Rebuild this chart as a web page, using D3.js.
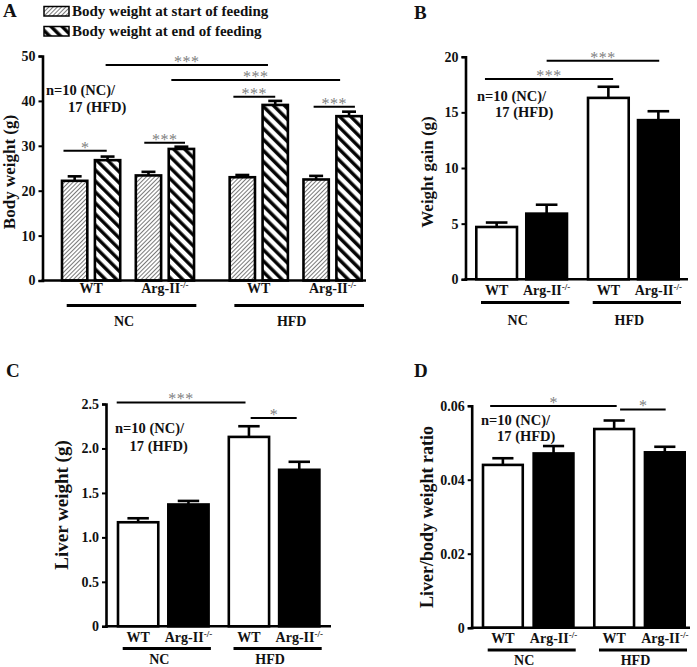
<!DOCTYPE html>
<html><head><meta charset="utf-8">
<script src="https://cdn.jsdelivr.net/npm/d3@7"></script>
<style>
body{margin:0;background:#fff}
svg{display:block}
text{font-family:"Liberation Serif","Times New Roman",serif;font-weight:bold;fill:#111}
</style>
</head><body>
<svg id="chart" width="697" height="667"></svg>
<script>
// ---------------- data ----------------
const diets = ["NC", "HFD"];
const genotypes = ["WT", "Arg-II"];
const times = ["start", "end"];
const legendLabels = ["Body weight at start of feeding", "Body weight at end of feeding"];
// order: NC-WT, NC-Arg, HFD-WT, HFD-Arg
const bodyStartMean = [22.2, 23.4, 23.0, 22.5];
const bodyStartErr  = [1.0, 0.8, 0.5, 0.8];
const bodyEndMean   = [26.8, 29.3, 39.1, 36.6];
const bodyEndErr    = [0.8, 0.5, 0.9, 1.0];
const gainMean  = [4.7, 5.9, 16.3, 14.3];
const gainErr   = [0.4, 0.8, 1.0, 0.8];
const liverMean = [1.17, 1.37, 2.13, 1.76];
const liverErr  = [0.045, 0.04, 0.12, 0.09];
const ratioMean = [0.0440, 0.0471, 0.0537, 0.0474];
const ratioErr  = [0.0018, 0.0020, 0.0023, 0.0015];
const ticksA = [0, 10, 20, 30, 40, 50];
const ticksB = [0, 5, 10, 15, 20];
const ticksC = [0, 0.5, 1.0, 1.5, 2.0, 2.5];
const tickLabelsC = ["0", "0.5", "1.0", "1.5", "2.0", "2.5"];
const ticksD = [0, 0.02, 0.04, 0.06];
const tickLabelsD = ["0", "0.02", "0.04", "0.06"];
const nLabel = ["n=10 (NC)/", "17 (HFD)"];
// significance annotations: bar refs [diet, genotype, (time)], fraction along bar, level
const sigA = [
  {a:["NC","WT","end"], fa:0.43, b:["HFD","WT","end"], fb:0.24, v:48.0, t:"***"},
  {a:["NC","Arg-II","end"], fa:0.14, b:["HFD","Arg-II","end"], fb:0.18, v:44.65, t:"***"},
  {a:["HFD","WT","start"], fa:0.18, b:["HFD","WT","end"], fb:0.5, v:40.9, t:"***"},
  {a:["HFD","Arg-II","start"], fa:0.41, b:["HFD","Arg-II","end"], fb:0.71, v:38.7, t:"***"},
  {a:["NC","WT","start"], fa:0.1, b:["NC","WT","end"], fb:0.47, v:28.9, t:"*"},
  {a:["NC","Arg-II","start"], fa:0.35, b:["NC","Arg-II","end"], fb:0.63, v:30.7, t:"***"}
];
const sigB = [
  {a:["NC","WT"], fa:0.23, b:["HFD","WT"], fb:0.61, v:18.0, t:"***"},
  {a:["NC","Arg-II"], fa:0.5, b:["HFD","Arg-II"], fb:0.52, v:19.64, t:"***"}
];
const sigC = [
  {a:["NC","WT"], fa:0.0, b:["HFD","WT"], fb:0.42, v:2.518, t:"***"},
  {a:["HFD","WT"], fa:0.54, b:["HFD","Arg-II"], fb:0.44, v:2.342, t:"*"}
];
const sigD = [
  {a:["NC","WT"], fa:0.2, b:["HFD","WT"], fb:0.56, v:0.0599, t:"*"},
  {a:["HFD","WT"], fa:0.64, b:["HFD","Arg-II"], fb:0.52, v:0.0590, t:"*"}
];

// ---------------- drawing ----------------
const svg = d3.select("#chart");
const defs = svg.append("defs");
const pFine = defs.append("pattern").attr("id","hatchStart").attr("patternUnits","userSpaceOnUse")
  .attr("width",3).attr("height",3).attr("patternTransform","rotate(45)");
pFine.append("rect").attr("width",3).attr("height",3).attr("fill","#fff");
pFine.append("line").attr("x1",0.5).attr("x2",0.5).attr("y1",0).attr("y2",3).attr("stroke","#7a7a7a").attr("stroke-width",1);
const pBold = defs.append("pattern").attr("id","hatchEnd").attr("patternUnits","userSpaceOnUse")
  .attr("width",7.8).attr("height",7.8).attr("patternTransform","rotate(-45)");
pBold.append("rect").attr("width",7.8).attr("height",7.8).attr("fill","#fff");
pBold.append("line").attr("x1",1.8).attr("x2",1.8).attr("y1",0).attr("y2",7.8).attr("stroke","#000").attr("stroke-width",3.4);

const SW = 2.6;

function drawAxes(g, y, axisX, endX, ticks, labels) {
  const ax = g.append("g").attr("transform", `translate(${axisX},0)`)
    .call(d3.axisLeft(y).tickValues(ticks).tickSizeOuter(0).tickSize(4).tickPadding(3)
      .tickFormat((d,i)=> labels ? labels[i] : d3.format("d")(d)));
  ax.select(".domain").attr("stroke","#000").attr("stroke-width",SW);
  ax.selectAll(".tick line").attr("stroke","#000").attr("stroke-width",2);
  ax.selectAll(".tick text").attr("font-size",14).attr("font-family",'"Liberation Serif",serif').attr("font-weight","bold").attr("fill","#111");
  g.append("line").attr("x1",axisX-1).attr("x2",endX).attr("y1",y(0)).attr("y2",y(0))
    .attr("stroke","#000").attr("stroke-width",SW);
}

function yTitle(g, text, x, yc, size) {
  g.append("text").attr("transform",`translate(${x},${yc}) rotate(-90)`)
    .attr("text-anchor","middle").attr("dominant-baseline","middle").attr("font-size",size).text(text);
}

function sigLines(g, list, xPos, y) {
  list.forEach(s => {
    const x1 = xPos(s.a, s.fa), x2 = xPos(s.b, s.fb), yy = y(s.v);
    g.append("line").attr("x1",x1).attr("x2",x2).attr("y1",yy).attr("y2",yy).attr("stroke","#000").attr("stroke-width",2);
    g.append("text").attr("x",(x1+x2)/2).attr("y",yy+2).attr("text-anchor","middle")
      .attr("font-size",16).attr("letter-spacing", s.t.length>1 ? 0.5 : 0)
      .style("fill","#808080").style("font-weight","normal").text(s.t);
  });
}

function catLabel(g, geno, x, y) {
  const t = g.append("text").attr("x",x).attr("y",y).attr("text-anchor","middle").attr("font-size",14);
  if (geno === "WT") t.text("WT");
  else {
    t.append("tspan").text("Arg-II");
    t.append("tspan").attr("font-size",9).attr("dy",-5).text("-/-");
  }
}

function groupLabels(g, dietScale, genoScale, yCat, yLine, yDiet) {
  diets.forEach(d => {
    const x0 = dietScale(d), w = dietScale.bandwidth();
    genotypes.forEach(ge => catLabel(g, ge, x0 + genoScale(ge) + genoScale.bandwidth()/2, yCat));
    g.append("line").attr("x1",x0+6).attr("x2",x0+w+1).attr("y1",yLine).attr("y2",yLine)
      .attr("stroke","#000").attr("stroke-width",3);
    g.append("text").attr("x",x0+w/2-4).attr("y",yDiet).attr("text-anchor","middle").attr("font-size",14).text(d);
  });
}

function nText(g, x, y1, x2, y2) {
  g.append("text").attr("x",x).attr("y",y1).attr("font-size",14.5).text(nLabel[0]);
  g.append("text").attr("x",x2).attr("y",y2).attr("font-size",14.5).text(nLabel[1]);
}

function errBar(g, cx, w, y, mean, err) {
  g.append("line").attr("x1",cx).attr("x2",cx).attr("y1",y(mean)).attr("y2",y(mean+err)).attr("stroke","#000").attr("stroke-width",SW);
  g.append("line").attr("x1",cx-w/4).attr("x2",cx+w/4).attr("y1",y(mean+err)).attr("y2",y(mean+err)).attr("stroke","#000").attr("stroke-width",SW);
}

// ---------- Panel A ----------
{
  const g = svg.append("g");
  const y = d3.scaleLinear().domain([0,50]).range([280.5,56]);
  const dS = d3.scaleBand().domain(diets).range([60.7,363]).paddingInner(0.197).paddingOuter(0);
  const gS = d3.scaleBand().domain(genotypes).range([0,dS.bandwidth()]).paddingInner(0.176);
  const tS = d3.scaleBand().domain(times).range([0,gS.bandwidth()]).paddingInner(0.152);
  const bx = (k) => dS(k[0]) + gS(k[1]) + tS(k[2]);
  const bw = tS.bandwidth();
  const bars = [];
  diets.forEach((d,di)=>genotypes.forEach((ge,gi)=>{
    const i = di*2+gi;
    bars.push({k:[d,ge,"start"], m:bodyStartMean[i], e:bodyStartErr[i], fill:"url(#hatchStart)"});
    bars.push({k:[d,ge,"end"], m:bodyEndMean[i], e:bodyEndErr[i], fill:"url(#hatchEnd)"});
  }));
  bars.forEach(b => errBar(g, bx(b.k)+bw/2, bw, y, b.m, b.e));
  g.selectAll("rect.bar").data(bars).join("rect").attr("class","bar")
    .attr("x",b=>bx(b.k)+SW/2).attr("width",bw-SW).attr("y",b=>y(b.m)).attr("height",b=>y(0)-y(b.m))
    .attr("fill",b=>b.fill).attr("stroke","#000").attr("stroke-width",SW);
  drawAxes(g, y, 42.5, 366, ticksA, null);
  yTitle(g, "Body weight (g)", 11, 172, 17);
  sigLines(g, sigA, (k,f)=>bx(k)+f*bw, y);
  groupLabels(g, dS, gS, 293, 305.5, 326);
  nText(g, 46, 95, 68, 112);
  g.append("text").attr("x",3).attr("y",17).attr("font-size",19).text("A");
  // legend
  legendLabels.forEach((l,i)=>{
    g.append("rect").attr("x",44).attr("y",6.5+i*20).attr("width",25).attr("height",9.5)
      .attr("fill", i===0 ? "url(#hatchStart)" : "url(#hatchEnd)").attr("stroke","#000").attr("stroke-width",1.5);
    g.append("text").attr("x",72).attr("y",16+i*20).attr("font-size",15).text(l);
  });
}

// ---------- generic simple panel ----------
function simplePanel(o) {
  const g = svg.append("g");
  const y = d3.scaleLinear().domain(o.domain).range(o.yRange);
  const dS = d3.scaleBand().domain(diets).range(o.xRange).paddingInner(o.pOut).paddingOuter(0);
  const gS = d3.scaleBand().domain(genotypes).range([0,dS.bandwidth()]).paddingInner(o.pIn);
  const bx = (k) => dS(k[0]) + gS(k[1]);
  const bw = gS.bandwidth();
  const bars = [];
  diets.forEach((d,di)=>genotypes.forEach((ge,gi)=>{
    const i = di*2+gi;
    bars.push({k:[d,ge], m:o.mean[i], e:o.err[i], fill: gi===0 ? "#fff" : "#000"});
  }));
  bars.forEach(b => errBar(g, bx(b.k)+bw/2, bw, y, b.m, b.e));
  g.selectAll("rect.bar").data(bars).join("rect").attr("class","bar")
    .attr("x",b=>bx(b.k)+SW/2).attr("width",bw-SW).attr("y",b=>y(b.m)).attr("height",b=>y(0)-y(b.m))
    .attr("fill",b=>b.fill).attr("stroke","#000").attr("stroke-width",SW);
  drawAxes(g, y, o.axisX, o.endX, o.ticks, o.tickLabels);
  yTitle(g, o.title, o.titleX, o.titleY, o.titleSize);
  sigLines(g, o.sig, (k,f)=>bx(k)+f*bw, y);
  groupLabels(g, dS, gS, o.yCat, o.yLine, o.yDiet);
  nText(g, o.n[0], o.n[1], o.n[2], o.n[3]);
  g.append("text").attr("x",o.letter[0]).attr("y",o.letter[1]).attr("font-size",19).text(o.letter[2]);
}

simplePanel({domain:[0,20], yRange:[279.3,56.7], xRange:[475,680], pOut:0.165, pIn:0.134,
  mean:gainMean, err:gainErr, axisX:465.5, endX:688, ticks:ticksB, tickLabels:null,
  title:"Weight gain (g)", titleX:429, titleY:172, titleSize:17, sig:sigB,
  yCat:295, yLine:302.5, yDiet:325, n:[477,101,495,117], letter:[414,19,"B"]});

simplePanel({domain:[0,2.5], yRange:[626.3,404], xRange:[116.7,320.7], pOut:0.159, pIn:0.148,
  mean:liverMean, err:liverErr, axisX:106, endX:331, ticks:ticksC, tickLabels:tickLabelsC,
  title:"Liver weight (g)", titleX:64, titleY:505, titleSize:19, sig:sigC,
  yCat:641.5, yLine:648.5, yDiet:664, n:[115,433,129.5,451], letter:[6,377,"C"]});

simplePanel({domain:[0,0.06], yRange:[627.7,405.7], xRange:[481.7,686], pOut:0.164, pIn:0.164,
  mean:ratioMean, err:ratioErr, axisX:471.7, endX:690, ticks:ticksD, tickLabels:tickLabelsD,
  title:"Liver/body weight ratio", titleX:429, titleY:517, titleSize:18, sig:sigD,
  yCat:643, yLine:650, yDiet:665, n:[481,425,497,441], letter:[414,377,"D"]});
</script>
</body></html>
